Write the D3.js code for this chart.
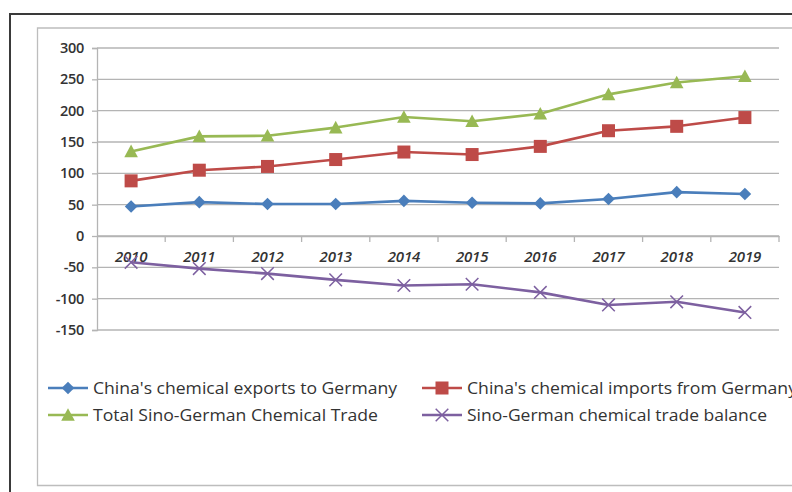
<!DOCTYPE html>
<html><head><meta charset="utf-8">
<script src="https://cdn.jsdelivr.net/npm/d3@7/dist/d3.min.js"></script>
<style>body{margin:0;background:#fff}svg{display:block}</style>
</head><body><svg id="c" width="792" height="492"></svg>
<script>
const years = ["2010","2011","2012","2013","2014","2015","2016","2017","2018","2019"];
const exportsDE = [47,54,51,51,56,53,52,59,70,67];
const importsDE = [88,105,111,122,134,130,143,168,175,189];
const totalTrade = [135,159,160,173,190,183,195,226,245,255];
const balance = [-42,-52,-60,-70,-79,-77,-90,-110,-105,-122];
const yTicks = [300,250,200,150,100,50,0,-50,-100,-150];
const seriesNames = ["China's chemical exports to Germany","China's chemical imports from Germany","Total Sino-German Chemical Trade","Sino-German chemical trade balance"];

const series = [
  {name: seriesNames[0], values: exportsDE, color: "#4A7EBB", marker: "diamond"},
  {name: seriesNames[1], values: importsDE, color: "#BE4B48", marker: "square"},
  {name: seriesNames[2], values: totalTrade, color: "#98B954", marker: "triangle"},
  {name: seriesNames[3], values: balance, color: "#7D60A0", marker: "x"}
];

const svg = d3.select("#c");
const font = "'Open Sans', sans-serif";

svg.append("path").attr("d","M10,492V14H792").attr("fill","none").attr("stroke","#3a3a3a").attr("stroke-width",2);
svg.append("path").attr("d","M792,28H37.5V485.5H792").attr("fill","none").attr("stroke","#bdbdbd").attr("stroke-width",1.3);

const x = d3.scaleBand().domain(years).range([97,779]);
const y = d3.scaleLinear().domain([-150,300]).range([330,48]);

svg.append("g").selectAll("line").data(yTicks).join("line")
  .attr("x1",97).attr("x2",779).attr("y1",d=>y(d)).attr("y2",d=>y(d))
  .attr("stroke","#b4b4b4").attr("stroke-width",1.3);

const ya = svg.append("g").attr("transform","translate(97,0)")
  .call(d3.axisLeft(y).tickValues(yTicks).tickSize(5).tickPadding(7).tickFormat(d=>String(d)));
ya.select(".domain").attr("stroke","#b4b4b4").attr("stroke-width",1.3);
ya.selectAll(".tick line").attr("stroke","#b4b4b4").attr("stroke-width",1.3);
ya.selectAll("text").attr("font-family",font).attr("font-size",14.5).attr("font-weight",600)
  .attr("fill","#333").attr("dx",-1).attr("letter-spacing",-0.3);

const xa = svg.append("g").attr("transform",`translate(0,${y(0)})`)
  .call(d3.axisBottom(x).tickSize(0).tickPadding(15));
xa.select(".domain").attr("stroke","#b4b4b4").attr("stroke-width",1.3);
xa.selectAll("text").attr("font-family",font).attr("font-size",15).attr("font-style","italic")
  .attr("font-weight",600).attr("fill","#333").attr("letter-spacing",-0.2);
const bounds = years.map(d=>x(d)).concat([x.range()[1]]).slice(1);
svg.append("g").selectAll("line").data(bounds).join("line")
  .attr("x1",d=>d).attr("x2",d=>d).attr("y1",y(0)).attr("y2",y(0)+6)
  .attr("stroke","#b4b4b4").attr("stroke-width",1.3);

const cx = d => x(d) + x.bandwidth()/2;

function marker(g, type, color, s) {
  if (type==="diamond") g.append("path").attr("d",`M0,${-s}L${s},0L0,${s}L${-s},0Z`).attr("fill",color);
  else if (type==="square") g.append("rect").attr("x",-s).attr("y",-s).attr("width",2*s).attr("height",2*s).attr("fill",color);
  else if (type==="triangle") g.append("path").attr("d",`M0,${-s-1}L${s+1},${s}L${-s-1},${s}Z`).attr("fill",color);
  else if (type==="x") g.append("path").attr("d",`M${-s},${-s}L${s},${s}M${-s},${s}L${s},${-s}`).attr("stroke",color).attr("stroke-width",1.5);
}
const msize = {diamond:6.3, square:6.5, triangle:5.8, x:6.3};

const line = d3.line().x((d,i)=>cx(years[i])).y(d=>y(d));
series.forEach(s=>{
  svg.append("path").datum(s.values).attr("d",line).attr("fill","none")
    .attr("stroke",s.color).attr("stroke-width",2.6).attr("stroke-linejoin","round");
  s.values.forEach((v,i)=>{
    const g = svg.append("g").attr("transform",`translate(${cx(years[i])},${y(v)})`);
    marker(g, s.marker, s.color, msize[s.marker]);
  });
});

const legPos = [[48,388],[422,388],[48,415],[422,415]];
const legW = [304, 330, 285, 300];
series.forEach((s,i)=>{
  const [lx,ly] = legPos[i];
  const g = svg.append("g").attr("transform",`translate(${lx},${ly})`);
  g.append("line").attr("x1",0).attr("x2",40).attr("stroke",s.color).attr("stroke-width",2.6);
  const m = g.append("g").attr("transform","translate(20,0)");
  marker(m, s.marker, s.color, msize[s.marker]);
  g.append("text").attr("x",45).attr("y",5.5).attr("font-family",font).attr("font-size",16)
    .attr("fill","#333").attr("textLength",legW[i]).attr("lengthAdjust","spacingAndGlyphs").text(s.name);
});
</script></body></html>
